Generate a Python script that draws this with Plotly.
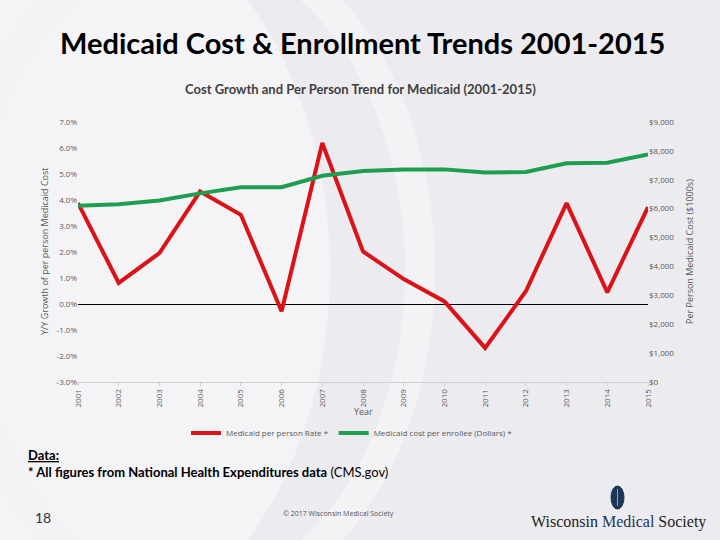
import plotly.graph_objects as go

years = list(range(2001, 2016))
growth_rate = [3.88, 0.81, 1.96, 4.33, 3.43, -0.28, 6.19, 2.02, 0.96, 0.10, -1.69, 0.49, 3.88, 0.45, 3.73]
cost_per_enrollee = [6100, 6150, 6280, 6530, 6740, 6740, 7140, 7300, 7360, 7360, 7250, 7270, 7570, 7590, 7880]
left_ticks = [-3, -2, -1, 0, 1, 2, 3, 4, 5, 6, 7]
right_ticks = [0, 1000, 2000, 3000, 4000, 5000, 6000, 7000, 8000, 9000]

W, H = 720, 540
L, R, T, B = 78, 648, 122, 382

def px(x):
    return (x - L) / (R - L)

def py(y):
    return (B - y) / (B - T)

fig = go.Figure()
fig.add_trace(go.Scatter(
    x=years, y=growth_rate, mode="lines", name="Medicaid per person Rate *",
    line=dict(color="#dc1219", width=4), yaxis="y"))
fig.add_trace(go.Scatter(
    x=years, y=cost_per_enrollee, mode="lines", name="Medicaid cost per enrollee (Dollars) *",
    line=dict(color="#1e9e50", width=4), yaxis="y2"))

tickfont = dict(family="Open Sans", size=8, color="#595959")

fig.update_layout(
    width=W, height=H,
    margin=dict(l=L, r=W - R, t=T, b=H - B),
    paper_bgcolor="#ecebef",
    plot_bgcolor="rgba(0,0,0,0)",
    showlegend=True,
    legend=dict(orientation="h", x=px(186), y=py(433), xanchor="left", yanchor="middle",
                font=dict(family="Open Sans", size=8, color="#595959"),
                bgcolor="rgba(0,0,0,0)", itemwidth=30, tracegroupgap=0),
    xaxis=dict(range=[2001, 2015], tickmode="array", tickvals=years,
               ticktext=[str(y) for y in years], tickangle=-90, tickfont=tickfont,
               showgrid=False, zeroline=False, showline=True, linecolor="#d0d0d0",
               ticks="outside", ticklen=3, tickcolor="#d0d0d0"),
    yaxis=dict(range=[-3, 7], tickmode="array", tickvals=left_ticks,
               ticktext=[f"{v:.1f}%" for v in left_ticks], tickfont=tickfont,
               showgrid=False, zeroline=True, zerolinecolor="#000000", zerolinewidth=1,
               showline=False),
    yaxis2=dict(range=[0, 9000], tickmode="array", tickvals=right_ticks,
                ticktext=[f"${v:,.0f}" for v in right_ticks], tickfont=tickfont,
                overlaying="y", side="right", showgrid=False, zeroline=False, showline=False),
)

annotations = [
    dict(text="<b>Medicaid Cost & Enrollment Trends 2001-2015</b>", x=px(362), y=py(43),
         font=dict(family="Lato", size=29, color="#000000")),
    dict(text="<b>Cost Growth and Per Person Trend for Medicaid (2001-2015)</b>", x=px(360), y=py(89),
         font=dict(family="Lato", size=13, color="#404040")),
    dict(text="Y/Y Growth of per person Medicaid Cost", x=px(44), y=py(252), textangle=-90,
         font=dict(family="Open Sans", size=9, color="#595959")),
    dict(text="Per Person Medicaid Cost ($1000s)", x=px(689), y=py(252), textangle=-90,
         font=dict(family="Open Sans", size=9, color="#595959")),
    dict(text="Year", x=px(363), y=py(411),
         font=dict(family="Open Sans", size=9, color="#595959")),
    dict(text="<b><u>Data:</u></b>", x=px(26), y=py(455), xanchor="left",
         font=dict(family="Lato", size=13, color="#000000")),
    dict(text="<b>* All figures from National Health Expenditures data</b> (CMS.gov)", x=px(26), y=py(472),
         xanchor="left", font=dict(family="Lato", size=13, color="#000000")),
    dict(text="18", x=px(43), y=py(517),
         font=dict(family="Lato", size=14, color="#333333")),
    dict(text="© 2017 Wisconsin Medical Society", x=px(338), y=py(513),
         font=dict(family="Open Sans", size=7, color="#555555")),
    dict(text="Wisconsin <span style='color:#1d3557'>Medical</span> Society", x=px(618), y=py(522),
         font=dict(family="Liberation Serif", size=16, color="#222222")),
]
for a in annotations:
    a.setdefault("xanchor", "center")
    a.update(xref="paper", yref="paper", yanchor="middle", showarrow=False)
fig.update_layout(annotations=annotations)

# subtle background swooshes
fig.add_shape(type="circle", xref="paper", yref="paper", layer="below",
              x0=px(-260), x1=px(330), y0=py(-120), y1=py(660),
              fillcolor="#f4f3f6", line=dict(width=0))
fig.add_shape(type="circle", xref="paper", yref="paper", layer="below",
              x0=px(-40), x1=px(420), y0=py(-60), y1=py(600),
              fillcolor="rgba(0,0,0,0)", line=dict(color="#f3f2f5", width=30))

fig.add_shape(type="circle", xref="paper", yref="paper",
              x0=px(611), x1=px(624), y0=py(486), y1=py(509),
              fillcolor="#1d3557", line=dict(color="#1d3557", width=1))
fig.add_shape(type="line", xref="paper", yref="paper",
              x0=px(617.5), x1=px(617.5), y0=py(489), y1=py(506),
              line=dict(color="#8aa0bd", width=1))

fig.write_html("out.html")
